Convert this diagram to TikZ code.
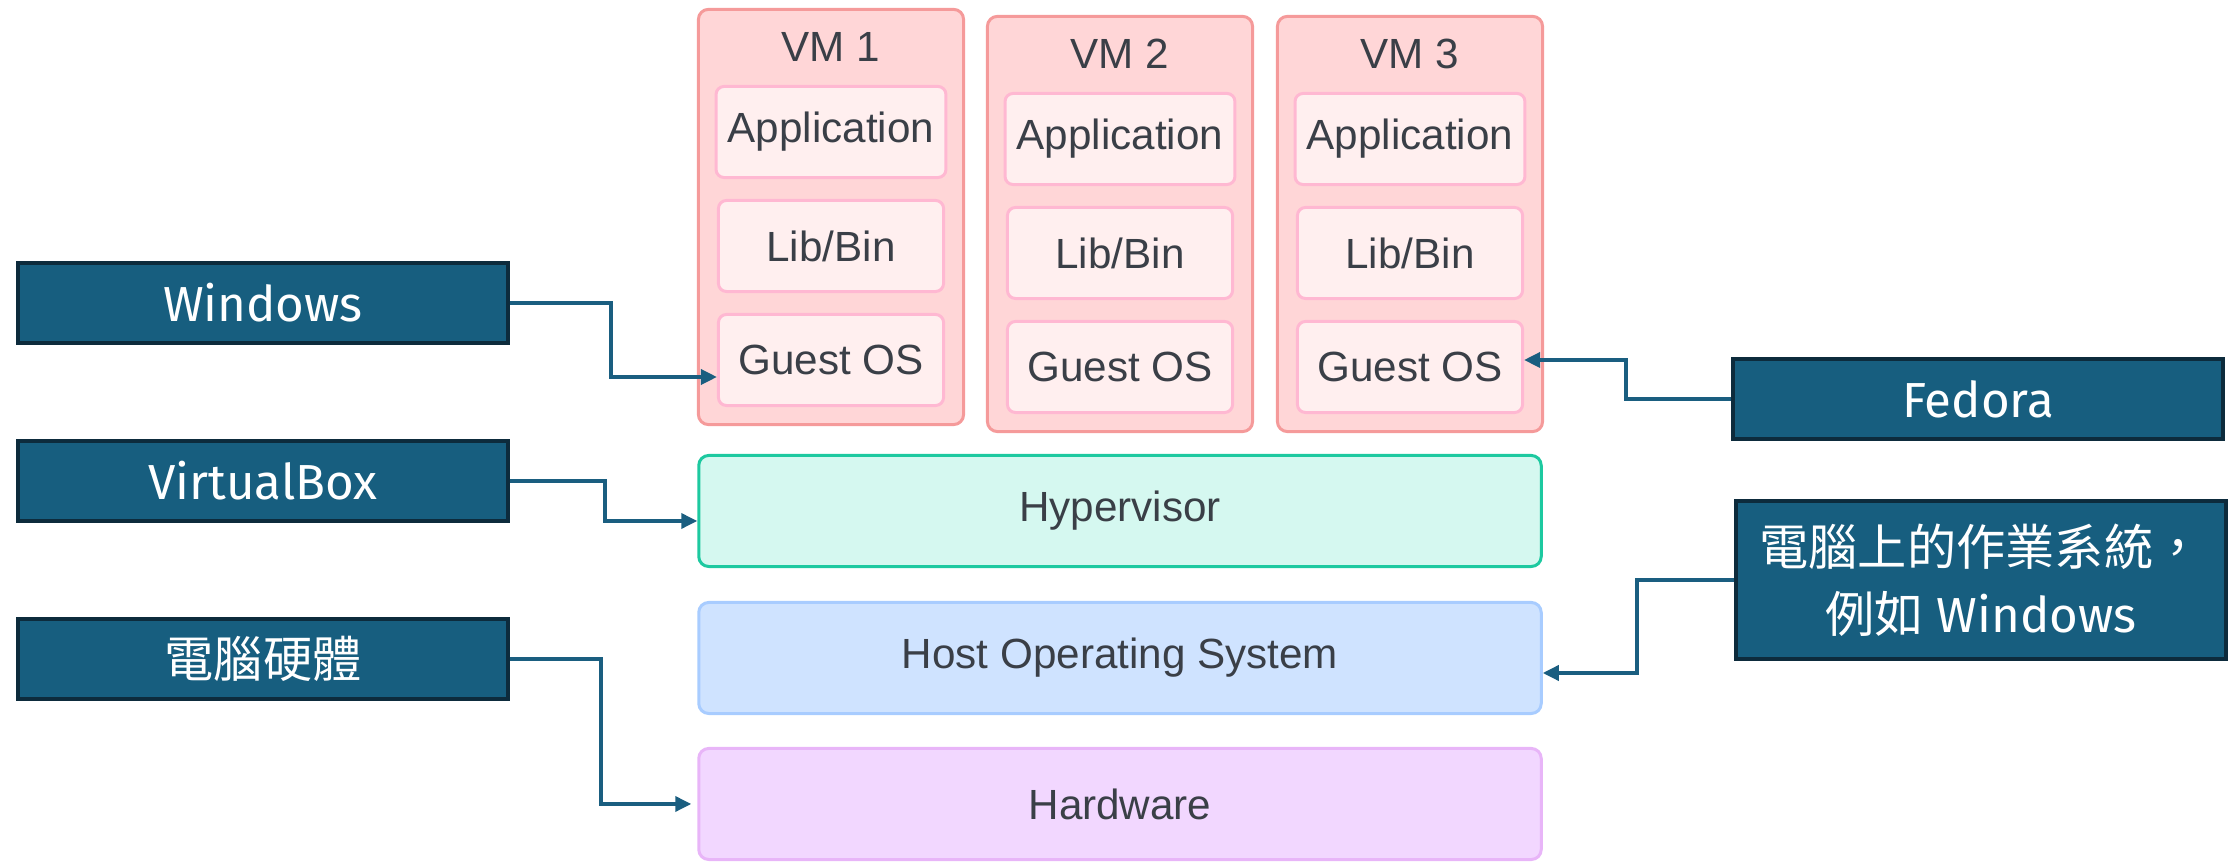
\documentclass[tikz,border=0pt]{standalone}
\usepackage{fontspec}
\setmainfont{Liberation Sans}
\newfontfamily\lblfont{Fira Sans}
\newfontfamily\cjkfont{Noto Sans CJK TC}
\usetikzlibrary{positioning,arrows.meta}
\definecolor{lblfill}{HTML}{175E7F}
\definecolor{lbledge}{HTML}{0D2B3C}
\definecolor{linkcol}{HTML}{1A5E80}
\definecolor{vmfill}{HTML}{FFD6D7}
\definecolor{vmedge}{HTML}{F59A9A}
\definecolor{partfill}{HTML}{FFEFEF}
\definecolor{partedge}{HTML}{FFB8D2}
\definecolor{hypfill}{HTML}{D5F8F0}
\definecolor{hypedge}{HTML}{1DC9A0}
\definecolor{hostfill}{HTML}{CFE3FF}
\definecolor{hostedge}{HTML}{A8CCFF}
\definecolor{hwfill}{HTML}{F2D7FF}
\definecolor{hwedge}{HTML}{E8B5F8}
\definecolor{txt}{HTML}{3A3F47}
\tikzset{
  lbl/.style={rectangle,draw=lbledge,fill=lblfill,line width=1.1pt,text=white,
    minimum width=4.9cm,minimum height=0.8cm,align=center,
    font=\lblfont\fontsize{14}{19}\selectfont},
  vm/.style={rectangle,rounded corners=0.1cm,draw=vmedge,fill=vmfill,line width=0.85pt,
    minimum width=2.65cm,minimum height=4.15cm},
  part/.style={rectangle,rounded corners=0.08cm,draw=partedge,fill=partfill,line width=0.85pt,
    minimum width=2.25cm,minimum height=0.91cm,text=txt,font=\fontsize{12}{14}\selectfont},
  layer/.style={rectangle,rounded corners=0.1cm,line width=0.85pt,
    minimum width=8.42cm,minimum height=1.11cm,text=txt,font=\fontsize{12}{14}\selectfont},
  vmname/.style={text=txt,font=\fontsize{12}{14}\selectfont},
  link/.style={draw=linkcol,line width=1pt,->}
}
\begin{document}
\begin{tikzpicture}[x=0.01cm,y=-0.01cm,>={Triangle[length=0.16cm,width=0.15cm]}]
\useasboundingbox (0,0) rectangle (2239,862);
% virtual machines
\node[vm] (vm1) at (831,217) {};
\node[vm] (vm2) at (1120,224) {};
\node[vm] (vm3) at (1410,224) {};
\node[vmname] (n1) at (831,47) {VM 1};
\node[vmname] (n2) at (1120,54) {VM 2};
\node[vmname] (n3) at (1410,54) {VM 3};
\node[part] (a1) at (831,132) {Application};
\node[part] (b1) at (831,246) {Lib/Bin};
\node[part] (g1) at (831,360) {Guest OS};
\node[part] (a2) at (1120,139) {Application};
\node[part] (b2) at (1120,253) {Lib/Bin};
\node[part] (g2) at (1120,367) {Guest OS};
\node[part] (a3) at (1410,139) {Application};
\node[part] (b3) at (1410,253) {Lib/Bin};
\node[part] (g3) at (1410,367) {Guest OS};
% layers
\node[layer,draw=hypedge,fill=hypfill] (hyp) at (1120,511) {Hypervisor};
\node[layer,draw=hostedge,fill=hostfill] (host) at (1120,658) {Host Operating System};
\node[layer,draw=hwedge,fill=hwfill] (hw) at (1120,804) {Hardware};
% labels
\node[lbl] (win) at (263,303) {Windows};
\node[lbl] (vbox) at (263,481) {VirtualBox};
\node[lbl] (pc) at (263,659) {\cjkfont 電腦硬體};
\node[lbl] (fed) at (1978,399) {Fedora};
\node[lbl,minimum height=1.58cm] (hostos) at (1981,580) {{\cjkfont 電腦上的作業系統，}\\{\cjkfont 例如} Windows};
% connectors
\draw[link] (win.east) -- ++(101,0) |- ([yshift=-0.17cm]g1.west);
\draw[link] (vbox.east) -- ++(95,0) |- ([yshift=-0.1cm]hyp.west);
\draw[link] (pc.east) -- ++(91,0) |- ([xshift=-0.06cm]hw.west);
\draw[link] (fed.west) -- ++(-105,0) |- ([yshift=0.07cm]g3.east);
\draw[link] (hostos.west) -- ++(-97,0) |- ([yshift=-0.15cm]host.east);

\end{tikzpicture}
\end{document}
